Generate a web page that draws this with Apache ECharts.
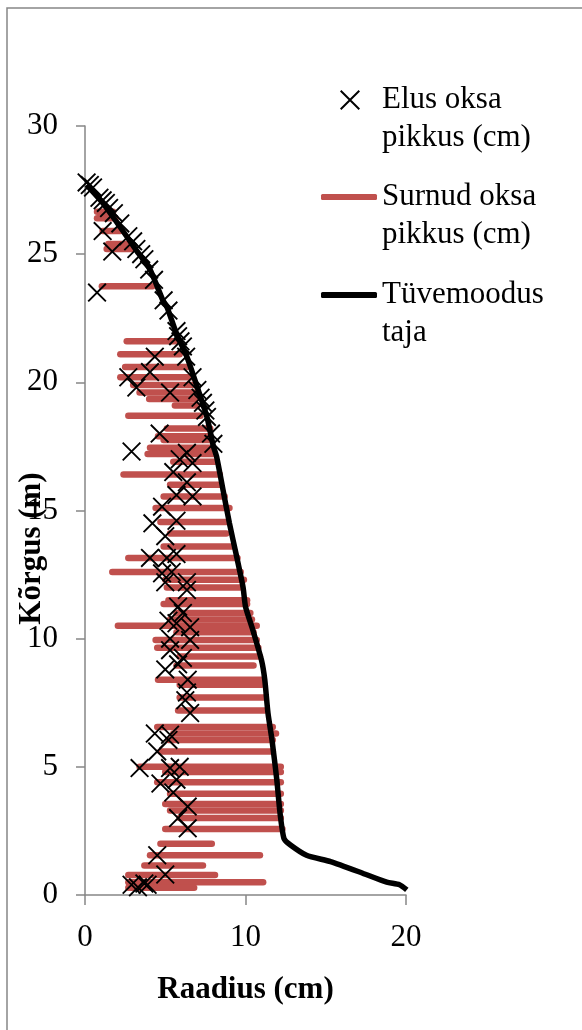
<!DOCTYPE html>
<html>
<head>
<meta charset="utf-8">
<script src="https://cdn.jsdelivr.net/npm/echarts@6/dist/echarts.min.js"></script>
<style>
  html, body { margin: 0; padding: 0; background: #fff; }
  #chart { width: 582px; height: 1030px; }
</style>
</head>
<body>
<div id="chart"></div>
<script>
// tüvemoodustaja (radius vs height)
var trunkX = [0.1, 1.1, 2.2, 3.2, 4.05, 4.85, 5.1, 5.7, 6.35, 7.0, 7.6, 8.0, 8.2, 8.6, 9.0, 9.45, 9.85, 10.0, 10.45, 11.0, 11.2, 11.4, 11.65, 11.95, 12.15, 12.4, 12.8, 13.8, 15.3, 17.3, 18.8, 19.6, 20.05];
var trunkY = [27.7, 27.0, 26.05, 25.15, 24.4, 23.2, 22.95, 21.9, 21.0, 19.8, 18.65, 17.5, 17.1, 15.8, 14.5, 13.2, 12.0, 11.25, 10.35, 9.15, 8.4, 7.1, 6.05, 4.5, 3.2, 2.2, 1.95, 1.55, 1.3, 0.85, 0.5, 0.4, 0.2];

// elus oksa pikkus (cm)
var liveX = [0.1, 0.3, 0.5, 0.9, 1.1, 1.3, 1.5, 1.8, 2.2, 2.7, 3.0, 3.2, 3.5, 3.7, 4.0, 4.3, 4.9, 5.2, 5.7, 5.8, 5.95, 6.1, 6.3, 6.7, 7.0, 7.2, 7.35, 7.5, 7.6, 7.85, 8.0,
  1.1, 1.7, 0.75, 4.35, 4.05, 2.7, 3.2, 5.3, 4.65, 2.9,
  6.35, 6.7, 5.9, 5.5, 6.35, 5.7, 6.7, 4.8, 4.2, 5.7, 5.0, 4.05, 5.1, 5.7, 4.8, 5.4, 5.0, 6.35,
  6.35, 5.8, 6.1, 5.2, 5.7, 6.55, 5.3, 6.55, 5.3, 6.1, 5.8, 5.0, 6.4, 6.35, 6.25, 6.55, 4.35, 5.3, 5.2, 4.5, 3.4, 5.3, 5.9, 4.7, 5.7, 5.5, 6.4, 5.8, 6.4, 4.5, 5.0, 2.9, 3.3, 3.7, 3.9];
var liveY = [27.8, 27.7, 27.6, 27.2, 27.1, 27.0, 26.8, 26.6, 26.2, 25.7, 25.5, 25.2, 25.0, 24.8, 24.4, 24.0, 23.2, 22.8, 22.0, 21.8, 21.6, 21.4, 21.0, 20.2, 19.7, 19.4, 19.2, 18.9, 18.65, 18.0, 17.6,
  25.9, 25.1, 23.5, 21.0, 20.4, 20.2, 19.8, 19.6, 18.0, 17.3,
  17.25, 16.85, 17.0, 16.5, 16.1, 15.6, 15.55, 15.15, 14.5, 14.6, 14.0, 13.15, 13.15, 13.3, 12.55, 12.6, 12.2, 12.2,
  11.9, 11.25, 11.0, 10.7, 10.6, 10.45, 10.0, 9.95, 9.55, 9.25, 9.0, 8.8, 8.4, 7.9, 7.6, 7.1, 6.3, 6.25, 6.05, 5.6, 4.95, 4.95, 5.0, 4.35, 4.5, 4.0, 3.45, 3.0, 2.6, 1.55, 0.8, 0.4, 0.3, 0.45, 0.4];

// surnud oksa pikkus (cm): each branch is a segment from deadX1 to deadX2 at height deadY
var deadY  = [26.65, 26.4, 25.9, 25.4, 25.2, 23.75, 21.6, 21.1, 20.6, 20.2, 19.9, 19.6, 19.35, 19.1, 18.7, 18.2, 17.9, 17.75, 17.45, 17.2, 16.9, 16.4, 16.0, 15.55, 15.1, 14.55, 14.1, 13.6, 13.15, 12.6, 12.3, 12.0, 11.5, 11.35, 11.0, 10.75, 10.5, 10.25, 9.95, 9.65, 9.3, 8.95, 8.4, 8.2, 7.7, 7.2, 6.55, 6.3, 6.05, 5.6, 5.0, 4.8, 4.4, 3.95, 3.55, 3.3, 3.0, 2.57, 2.0, 1.55, 1.15, 0.78, 0.5, 0.28];
var deadX1 = [0.75, 0.75, 1.1, 1.45, 1.35, 1.05, 2.6, 2.2, 2.5, 2.2, 3.0, 3.4, 4.0, 5.6, 2.7, 5.1, 4.55, 4.9, 4.05, 3.9, 5.5, 2.4, 5.3, 4.9, 4.4, 4.7, 5.3, 4.9, 2.7, 1.7, 5.0, 5.1, 5.2, 4.9, 5.7, 5.3, 2.05, 5.7, 4.4, 4.5, 5.9, 5.7, 4.55, 5.9, 5.9, 5.8, 4.5, 5.5, 5.2, 4.7, 3.4, 5.0, 4.5, 5.3, 5.0, 5.3, 5.9, 5.0, 4.7, 4.05, 3.7, 2.7, 2.7, 2.7];
var deadX2 = [1.75, 1.9, 2.2, 2.8, 3.0, 4.2, 5.7, 5.9, 6.35, 6.7, 6.9, 6.9, 6.9, 7.0, 7.2, 7.8, 7.8, 7.8, 8.0, 8.0, 8.1, 8.4, 8.4, 8.7, 9.0, 8.8, 8.8, 9.2, 9.5, 9.7, 9.9, 9.65, 10.1, 10.1, 10.3, 10.4, 10.7, 10.5, 10.7, 10.8, 10.9, 10.5, 11.0, 11.0, 11.2, 11.2, 11.7, 11.9, 11.7, 11.7, 12.2, 12.2, 12.2, 12.2, 12.2, 12.2, 12.2, 12.3, 7.9, 10.9, 7.35, 8.1, 11.1, 6.8];

var xTicks = [0, 10, 20];
var yTicks = [0, 5, 10, 15, 20, 25, 30];

var fontName = "'Liberation Serif', 'Times New Roman', serif";
var axisGray = '#868686';
var deadRed = '#C0504D';
var xMark = 'path://M0,7L7,0L100,93L93,100ZM93,0L100,7L7,100L0,93Z';

var liveData = liveX.map(function (x, i) { return [x, liveY[i]]; });
var trunkData = trunkX.map(function (x, i) { return [x, trunkY[i]]; });
var deadData = deadY.map(function (y, i) { return [deadX1[i], deadX2[i], y]; });

var nameLive = 'Elus oksa\npikkus (cm)';
var nameDead = 'Surnud oksa\npikkus (cm)';
var nameTrunk = 'Tüvemoodus\ntaja';

var legendText = {
    fontFamily: fontName,
    fontSize: 31,
    lineHeight: 38,
    color: '#000'
};
// blank first line so the icon lines up with the first text line
var legendFmt = function (name) { return '\n' + name; };

var chart = echarts.init(document.getElementById('chart'));
chart.setOption({
    animation: false,
    backgroundColor: '#fff',
    textStyle: { fontFamily: fontName },
    grid: { left: 85, right: 176, top: 126, bottom: 135, containLabel: false, outerBoundsMode: 'none' },
    graphic: [{
        type: 'rect',
        shape: { x: 7, y: 8, width: 700, height: 1200 },
        style: { fill: 'none', stroke: axisGray, lineWidth: 1.5 },
        silent: true
    }],
    legend: [{
        data: [{ name: nameLive, icon: xMark }],
        left: 340, top: 43, padding: 0,
        itemWidth: 54, itemHeight: 20, itemTextGap: 5,
        itemStyle: { color: '#000' },
        formatter: legendFmt,
        textStyle: legendText
    }, {
        data: [{ name: nameDead, icon: 'roundRect' }],
        left: 321, top: 140, padding: 0,
        itemWidth: 56, itemHeight: 6, itemTextGap: 5,
        formatter: legendFmt,
        textStyle: legendText
    }, {
        data: [{ name: nameTrunk, icon: 'roundRect' }],
        left: 321, top: 238, padding: 0,
        itemWidth: 56, itemHeight: 6, itemTextGap: 5,
        itemStyle: { color: '#000' },
        formatter: legendFmt,
        textStyle: legendText
    }],
    xAxis: {
        type: 'value',
        min: xTicks[0], max: xTicks[xTicks.length - 1], interval: 10,
        name: 'Raadius (cm)',
        nameLocation: 'middle',
        nameGap: 79,
        nameTextStyle: { fontFamily: fontName, fontSize: 31, fontWeight: 'bold', color: '#000' },
        axisLine: { onZero: false, lineStyle: { color: axisGray, width: 1.5 } },
        axisTick: { show: true, inside: false, length: 10, lineStyle: { color: axisGray, width: 1.5 } },
        axisLabel: { margin: 27, fontFamily: fontName, fontSize: 31, color: '#000' },
        splitLine: { show: false }
    },
    yAxis: {
        type: 'value',
        min: yTicks[0], max: yTicks[yTicks.length - 1], interval: 5,
        name: 'Kõrgus (m)',
        nameLocation: 'middle',
        nameGap: 38,
        nameMoveOverlap: false,
        nameTextStyle: { fontFamily: fontName, fontSize: 31, fontWeight: 'bold', color: '#000', padding: [0, 76, 0, 0] },
        axisLine: { show: true, onZero: false, lineStyle: { color: axisGray, width: 1.5 } },
        axisTick: { show: true, inside: false, length: 9, lineStyle: { color: axisGray, width: 1.5 } },
        axisLabel: { margin: 27, fontFamily: fontName, fontSize: 31, color: '#000' },
        splitLine: { show: false }
    },
    series: [{
        name: nameDead,
        type: 'custom',
        itemStyle: { color: deadRed },
        encode: { x: [0, 1], y: 2 },
        data: deadData,
        renderItem: function (params, api) {
            var a = api.coord([api.value(0), api.value(2)]);
            var b = api.coord([api.value(1), api.value(2)]);
            return {
                type: 'line',
                shape: { x1: a[0], y1: a[1], x2: b[0], y2: b[1] },
                style: { stroke: deadRed, lineWidth: 6.5, lineCap: 'round' }
            };
        }
    }, {
        name: nameLive,
        type: 'scatter',
        symbol: xMark,
        symbolSize: 19,
        itemStyle: { color: '#000', opacity: 1 },
        data: liveData
    }, {
        name: nameTrunk,
        type: 'line',
        symbol: 'none',
        smooth: 0.2,
        lineStyle: { color: '#000', width: 5.5 },
        itemStyle: { color: '#000' },
        data: trunkData
    }]
});
</script>
</body>
</html>
